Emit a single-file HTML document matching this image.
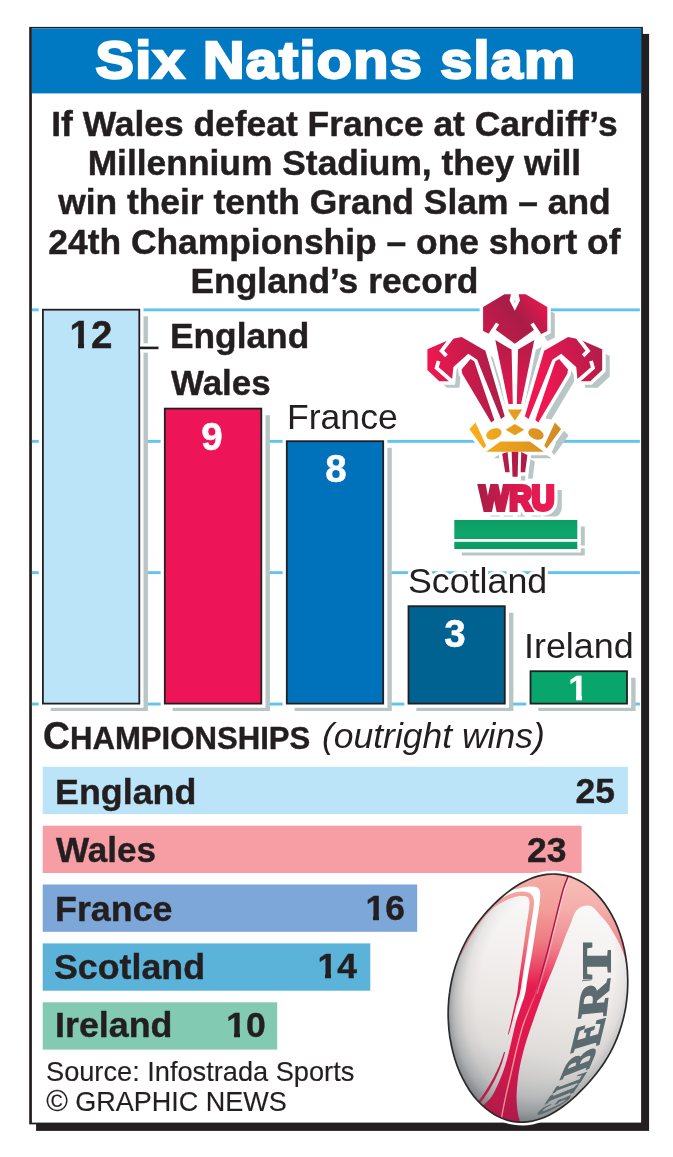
<!DOCTYPE html>
<html lang="en">
<head>
<meta charset="utf-8">
<title>Six Nations slam</title>
<style>
html,body{margin:0;padding:0;background:#fff;}
body{width:673px;height:1157px;position:relative;overflow:hidden;font-family:"Liberation Sans",sans-serif;color:#231f20;}
.abs{position:absolute;white-space:nowrap;line-height:1;}
#title{left:30.5px;width:610px;top:35px;text-align:center;font-weight:bold;font-size:51.5px;color:#fff;-webkit-text-stroke:2.4px #fff;letter-spacing:1.2px;transform:scaleX(1.115);transform-origin:50% 50%;}
.intro{left:0;width:668.8px;text-align:center;font-weight:bold;font-size:35.9px;transform:scaleX(0.986);transform-origin:50% 50%;-webkit-text-stroke:0.45px #231f20;}
.num{font-weight:bold;font-size:39.5px;text-align:center;width:98px;color:#fff;transform:scaleX(0.975);-webkit-text-stroke:0.5px #fff;margin-top:-3.8px;}
.lab{font-size:34.5px;transform:scaleX(1.02);transform-origin:0 50%;}
.labb{font-weight:bold;-webkit-text-stroke:0.4px #231f20;transform:scaleX(1.012);}
.hl{font-weight:bold;font-size:35.7px;transform-origin:0 50%;-webkit-text-stroke:0.4px #231f20;}
.hn{font-weight:bold;font-size:35.5px;text-align:right;transform-origin:100% 50%;-webkit-text-stroke:0.4px #231f20;}
#champ{font-size:31.7px;line-height:38px;}
#champ::first-letter{font-size:38px;}
.src{font-size:27.2px;left:46px;-webkit-text-stroke:0.15px #231f20;}
</style>
</head>
<body>
<svg class="abs" style="left:0;top:0" width="673" height="1157" viewBox="0 0 673 1157">
<rect x="36.1" y="33.9" width="613" height="1097" fill="#231f20"/>
<rect x="29.2" y="26.9" width="613.7" height="1097.5" fill="#231f20"/>
<rect x="31.9" y="28.4" width="609.2" height="1094.2" fill="#fff"/>
<rect x="31.9" y="28.4" width="609.2" height="65" fill="#0079c2"/>
<rect x="31.9" y="308.4" width="608" height="2.9" fill="#62c4ee"/>
<rect x="31.9" y="439.9" width="608" height="2.9" fill="#62c4ee"/>
<rect x="31.9" y="571.2" width="608" height="2.9" fill="#62c4ee"/>
<rect x="31.9" y="702.6" width="608" height="2.9" fill="#62c4ee"/>
<rect x="50.7" y="316.3" width="97.2" height="394.7" fill="#b7c5c5"/>
<rect x="38.7" y="305.5" width="104.8" height="402.3" fill="#fff"/>
<rect x="42.9" y="309.7" width="96.4" height="393.9" fill="#bce4f9" stroke="#231f20" stroke-width="1.8"/>
<rect x="172.6" y="415.2" width="97.3" height="295.8" fill="#b7c5c5"/>
<rect x="160.6" y="404.4" width="104.9" height="303.4" fill="#fff"/>
<rect x="164.8" y="408.6" width="96.5" height="295.0" fill="#ed1558" stroke="#231f20" stroke-width="1.8"/>
<rect x="294.6" y="447.8" width="97.2" height="263.2" fill="#b7c5c5"/>
<rect x="282.6" y="437.0" width="104.8" height="270.8" fill="#fff"/>
<rect x="286.8" y="441.2" width="96.4" height="262.4" fill="#0072bc" stroke="#231f20" stroke-width="1.8"/>
<rect x="416.3" y="612.8" width="97.1" height="98.2" fill="#b7c5c5"/>
<rect x="404.3" y="602.0" width="104.7" height="105.8" fill="#fff"/>
<rect x="408.5" y="606.2" width="96.3" height="97.4" fill="#006291" stroke="#231f20" stroke-width="1.8"/>
<rect x="538.3" y="677.8" width="97.3" height="33.2" fill="#b7c5c5"/>
<rect x="526.3" y="667.0" width="104.9" height="40.8" fill="#fff"/>
<rect x="530.5" y="671.2" width="96.5" height="32.4" fill="#08a56d" stroke="#231f20" stroke-width="1.8"/>
<rect x="140.4" y="343.3" width="8.6" height="9.4" fill="#fff"/>
<rect x="139.2" y="346.6" width="19.3" height="2.6" fill="#231f20"/>
<rect x="42.7" y="766.8" width="585.2" height="47.3" fill="#bce4f9"/>
<rect x="42.7" y="825.7" width="538.9" height="47.3" fill="#f69ea3"/>
<rect x="42.7" y="884.5" width="374.5" height="47.3" fill="#7da7d9"/>
<rect x="42.7" y="943.4" width="327.6" height="47.3" fill="#5cb3d9"/>
<rect x="42.7" y="1002.3" width="234.5" height="47.3" fill="#82cbb2"/>
</svg>
<div id="title" class="abs">Six Nations slam</div>

<div class="abs intro" style="top:106.6px">If Wales defeat France at Cardiff’s</div>
<div class="abs intro" style="top:146.0px">Millennium Stadium, they will</div>
<div class="abs intro" style="top:185.4px">win their tenth Grand Slam – and</div>
<div class="abs intro" style="top:224.8px">24th Championship – one short of</div>
<div class="abs intro" style="top:264.2px">England’s record</div>




<div class="abs num" style="left:42px;top:318.4px;color:#231f20;-webkit-text-stroke-color:#231f20">12</div>
<div class="abs num" style="left:163.3px;top:420.4px">9</div>
<div class="abs num" style="left:286.6px;top:452.8px">8</div>
<div class="abs num" style="left:406px;top:617.8px">3</div>
<div class="abs num" style="left:529.3px;top:673.5px;font-size:35px">1</div>

<div class="abs lab labb" style="left:170.4px;top:318.8px;transform:scaleX(1.023)">England</div>
<div class="abs lab labb" style="left:171.4px;top:366.4px">Wales</div>
<div class="abs lab" style="left:286.5px;top:400px;transform:scaleX(1.031)">France</div>
<div class="abs lab" style="left:407.8px;top:564px;-webkit-text-stroke:6px #fff;paint-order:stroke fill;transform:scaleX(1.037)">Scotland</div>
<div class="abs lab" style="left:523.8px;top:629.3px;transform:scaleX(1.04)">Ireland</div>

<div id="champ" class="abs" style="left:43px;top:716.5px;font-weight:bold;-webkit-text-stroke:0.4px #231f20;transform:scaleX(0.982);transform-origin:0 50%">CHAMPIONSHIPS</div>
<div class="abs" style="left:321.5px;top:718.7px;font-style:italic;font-size:34.5px;transform:scaleX(1.028);transform-origin:0 50%">(outright wins)</div>

<div class="abs hl" style="top:775.1px;left:54.6px;transform:scaleX(1.004)">England</div>
<div class="abs hl" style="top:833.4px;left:56.2px;transform:scaleX(0.983)">Wales</div>
<div class="abs hl" style="top:891.7px;left:54.6px;transform:scaleX(1.004)">France</div>
<div class="abs hl" style="top:950.0px;left:54.4px;transform:scaleX(1.002)">Scotland</div>
<div class="abs hl" style="top:1008.3px;left:54.6px;transform:scaleX(1.004)">Ireland</div>
<div class="abs hn" style="top:774.3px;left:515.0px;width:100px">25</div>
<div class="abs hn" style="top:832.6px;left:466.6px;width:100px">23</div>
<div class="abs hn" style="top:890.9px;left:305.1px;width:100px">16</div>
<div class="abs hn" style="top:949.2px;left:257.1px;width:100px">14</div>
<div class="abs hn" style="top:1007.5px;left:165.7px;width:100px">10</div>

<div class="abs src" style="top:1058.2px">Source: Infostrada Sports</div>
<div class="abs src" style="top:1089.2px;left:46.2px;font-size:27px"><span style="font-size:29.4px;line-height:0;position:relative;top:-0.7px">©</span> GRAPHIC NEWS</div>

<!--FEET-S-->
<svg class="abs" style="left:0;top:0" width="673" height="1157" viewBox="0 0 673 1157">
<rect x="69.50" y="342.5" width="8.50" height="7.5" fill="#bce4f9"/>
<rect x="84.02" y="342.5" width="7.48" height="7.5" fill="#bce4f9"/>
<rect x="568.50" y="695.5" width="7.50" height="6.5" fill="#08a56d"/>
<rect x="582.00" y="695.5" width="6.50" height="6.5" fill="#08a56d"/>
<rect x="365.50" y="915.5" width="7.50" height="6.5" fill="#7da7d9"/>
<rect x="379.00" y="915.5" width="7.50" height="6.5" fill="#7da7d9"/>
<rect x="317.50" y="973.5" width="7.50" height="6.5" fill="#5cb3d9"/>
<rect x="331.00" y="973.5" width="7.50" height="6.5" fill="#5cb3d9"/>
<rect x="226.50" y="1032.5" width="7.50" height="6.5" fill="#82cbb2"/>
<rect x="240.00" y="1032.5" width="7.50" height="6.5" fill="#82cbb2"/>
</svg>
<!--FEET-E-->
<!--LOGO-S-->
<svg class="abs" style="left:0;top:0" width="673" height="1157" viewBox="0 0 673 1157">
<defs>
<linearGradient id="gr" gradientUnits="userSpaceOnUse" x1="440" y1="420" x2="590" y2="300">
<stop offset="0" stop-color="#ef1654"/><stop offset="0.35" stop-color="#e0184f"/><stop offset="0.62" stop-color="#a81d47"/><stop offset="1" stop-color="#ee1752"/>
</linearGradient>
<linearGradient id="grL" gradientUnits="userSpaceOnUse" x1="428" y1="360" x2="490" y2="350">
<stop offset="0" stop-color="#f0174f"/><stop offset="1" stop-color="#b01d49"/>
</linearGradient>
<linearGradient id="grR" gradientUnits="userSpaceOnUse" x1="602" y1="350" x2="540" y2="370">
<stop offset="0" stop-color="#b01d49"/><stop offset="1" stop-color="#ef1752"/>
</linearGradient>
<linearGradient id="grH" gradientUnits="userSpaceOnUse" x1="490" y1="335" x2="545" y2="295">
<stop offset="0" stop-color="#c71a4b"/><stop offset="0.5" stop-color="#a81d47"/><stop offset="1" stop-color="#f01752"/>
</linearGradient>
<linearGradient id="grS" gradientUnits="userSpaceOnUse" x1="0" y1="345" x2="0" y2="420">
<stop offset="0" stop-color="#b81c49"/><stop offset="1" stop-color="#f01752"/>
</linearGradient>
<linearGradient id="gw" gradientUnits="userSpaceOnUse" x1="478" y1="0" x2="555" y2="0">
<stop offset="0" stop-color="#a81d47"/><stop offset="0.5" stop-color="#d91a4e"/><stop offset="1" stop-color="#f01a54"/>
</linearGradient>
<linearGradient id="gg" gradientUnits="userSpaceOnUse" x1="0" y1="520" x2="0" y2="549">
<stop offset="0" stop-color="#0b9c63"/><stop offset="0.5" stop-color="#0ea76c"/><stop offset="1" stop-color="#0b9a60"/>
</linearGradient>
<linearGradient id="go" gradientUnits="userSpaceOnUse" x1="470" y1="0" x2="560" y2="0">
<stop offset="0" stop-color="#f9b01c"/><stop offset="1" stop-color="#d38a22"/>
</linearGradient>
<g id="fHead"><polygon points="483.1,307 504.5,294.2 511,294.2 509.6,300.6 514.8,310.8 520,300.6 518.6,294.2 525.7,294.2 547.3,307 547.3,331 539.8,334.8 533.9,325.1 534.6,329.6 514.8,343.7 495.3,329.6 496,325.1 490.8,334.8 483.1,331"/></g>
<g id="fStem"><polygon points="495.3,340 511.6,349.6 512.8,404 508.5,404"/><polygon points="534.3,340 518,349.6 516.8,404 521.1,404"/></g>
<g id="fLeft"><polygon points="461.6,337.1 485.4,350.8 504.7,416.2 501,418.9 477.2,359.7 468.3,353.8 453.4,367.1 451.9,381.3 439.3,381.3 427.4,370.1 427.4,349.3 450.5,339.2"/><polygon points="461.6,369.4 470.5,359 474.2,361.2 494.3,419.9 491.3,422.4 462.3,373.8"/></g>
<g id="fRight"><polygon points="568,337.1 544.2,350.8 524.9,416.2 528.6,418.9 552.4,359.7 561.3,353.8 576.2,367.1 577.7,381.3 590.3,381.3 602.2,370.1 602.2,349.3 579.1,339.2"/><polygon points="568,369.4 559.1,359 555.4,361.2 535.3,419.9 538.3,422.4 567.3,373.8"/></g>
<g id="fTail"><polygon points="502.2,453.8 507.6,452 509.6,472.2 505.2,472.2"/><polygon points="511.7,451.5 518.3,451.5 517.6,476.8 512.5,476.8"/><polygon points="521.2,452 527.4,454.9 525.1,472.2 520.7,472.2"/></g>
<g id="fHull"><polygon points="475.5,424 506,418 514.9,410.5 524,418 554.9,424 544.5,450 486,450"/><polygon points="502,450 528,450 525,468 505,468"/></g>
<g id="fCrown"><polygon points="507.6,409.6 522.2,409.6 514.9,420.8"/><polygon points="505.6,429.8 514.9,424.1 524.2,429.8 514.9,435.3"/><ellipse cx="493.9" cy="433.9" rx="8" ry="5.3" transform="rotate(-22 493.9 433.9)"/><ellipse cx="535.9" cy="433.9" rx="8" ry="5.3" transform="rotate(22 535.9 433.9)"/><polygon points="469.3,428.9 475.5,422.6 486.2,445.8 483.5,448.5"/><polygon points="561.1,428.9 554.9,422.6 544.2,445.8 546.8,448.5"/><polygon points="486.2,451.7 500.5,441.4 529.9,441.4 543.8,451.7"/></g>
<g id="fGreen"><rect x="454.3" y="520" width="123" height="19"/><rect x="454.3" y="541.8" width="123" height="7.2"/></g>
</defs>
<g transform="translate(7.5,6.5)" fill="#b9c6c6">
<use href="#fHead"/><use href="#fStem"/><use href="#fLeft"/><use href="#fRight"/><use href="#fTail"/><use href="#fCrown"/><use href="#fGreen"/>
<text x="479.6" y="509.9" font-family="'Liberation Sans',sans-serif" font-weight="bold" font-size="34.3" textLength="74.8" lengthAdjust="spacingAndGlyphs" stroke="#b9c6c6" stroke-width="4" stroke-linejoin="miter">WRU</text>
</g>
<g fill="#fff" stroke="#fff" stroke-width="7" stroke-linejoin="miter">
<use href="#fHull"/><use href="#fHead"/><use href="#fStem"/><use href="#fLeft"/><use href="#fRight"/><use href="#fTail"/><use href="#fCrown"/><use href="#fGreen"/>
<text x="479.6" y="509.9" font-family="'Liberation Sans',sans-serif" font-weight="bold" font-size="34.3" textLength="74.8" lengthAdjust="spacingAndGlyphs" stroke-width="11">WRU</text>
</g>
<polyline points="491.5,333 514.8,348 538.1,333" fill="none" stroke="#fff" stroke-width="5"/>
<use href="#fHead" fill="url(#grH)"/>
<use href="#fStem" fill="url(#grS)"/>
<use href="#fLeft" fill="url(#grL)"/>
<use href="#fRight" fill="url(#grR)"/>
<use href="#fTail" fill="#b01b47"/>
<use href="#fCrown" fill="url(#go)"/>
<use href="#fGreen" fill="url(#gg)"/>
<g stroke="#fff" stroke-width="3.8" fill="none">
<line x1="497.6" y1="323.5" x2="490" y2="335"/><line x1="532" y1="323.5" x2="539.6" y2="335"/>
<polyline points="452.3,337 441.6,350.8 446.5,355.8"/>
<polyline points="438.6,361 436.6,367.9 453,382.3"/>
<polyline points="577.3,337 588,350.8 583.1,355.8"/>
<polyline points="591,361 593,367.9 576.6,382.3"/>
</g>
<text x="479.6" y="509.9" font-family="'Liberation Sans',sans-serif" font-weight="bold" font-size="34.3" textLength="74.8" lengthAdjust="spacingAndGlyphs" fill="url(#gw)" stroke="url(#gw)" stroke-width="4" stroke-linejoin="miter">WRU</text>
</svg>
<!--LOGO-E-->
<!--BALL-S-->
<svg class="abs" style="left:0;top:0" width="673" height="1157" viewBox="0 0 673 1157">
<defs>
<linearGradient id="bg" gradientUnits="userSpaceOnUse" x1="568" y1="876" x2="518" y2="1121">
<stop offset="0" stop-color="#fdfcfc"/><stop offset="0.3" stop-color="#f4f1f0"/><stop offset="0.55" stop-color="#ebe7e5"/><stop offset="0.72" stop-color="#dedbd9"/><stop offset="0.86" stop-color="#c6c6c6"/><stop offset="1" stop-color="#a6a9ab"/>
</linearGradient>
<radialGradient id="blimb" gradientUnits="userSpaceOnUse" cx="0" cy="0" r="1" gradientTransform="translate(545.5 984) rotate(14) scale(95.5 140)">
<stop offset="0" stop-color="#7a8085" stop-opacity="0"/><stop offset="0.7" stop-color="#7a8085" stop-opacity="0"/><stop offset="0.82" stop-color="#7a8085" stop-opacity="0.1"/><stop offset="0.92" stop-color="#757b80" stop-opacity="0.36"/><stop offset="1" stop-color="#6a7075" stop-opacity="0.72"/>
</radialGradient>
<linearGradient id="bb" gradientUnits="userSpaceOnUse" x1="0" y1="875" x2="0" y2="1122">
<stop offset="0" stop-color="#f6aca5"/><stop offset="0.14" stop-color="#f29d99"/><stop offset="0.27" stop-color="#ee7a83"/><stop offset="0.37" stop-color="#ea4867"/><stop offset="0.45" stop-color="#e61c51"/><stop offset="0.7" stop-color="#dc184e"/><stop offset="1" stop-color="#ad1a49"/>
</linearGradient>
<linearGradient id="bl" gradientUnits="userSpaceOnUse" x1="0" y1="875" x2="0" y2="995">
<stop offset="0" stop-color="#fff" stop-opacity="0.22"/><stop offset="0.6" stop-color="#fff" stop-opacity="0.12"/><stop offset="1" stop-color="#fff" stop-opacity="0"/>
</linearGradient>
<linearGradient id="bs" gradientUnits="userSpaceOnUse" x1="0" y1="875" x2="0" y2="1122">
<stop offset="0" stop-color="#a8153f"/><stop offset="0.4" stop-color="#b01443"/><stop offset="0.5" stop-color="#e8506a"/><stop offset="0.6" stop-color="#f59a9a"/><stop offset="1" stop-color="#ee8a8e"/>
</linearGradient>
<clipPath id="bc"><path d="M627.4,992.9C627.0,997.6 626.5,1002.3 625.8,1006.8C625.0,1011.3 624.1,1015.7 623.0,1019.9C622.0,1024.0 620.7,1028.1 619.4,1031.9C618.0,1035.8 616.6,1039.4 615.0,1042.9C613.5,1046.4 611.8,1049.7 610.1,1052.8C608.4,1056.0 606.6,1058.9 604.8,1061.7C603.0,1064.6 601.1,1067.2 599.2,1069.8C597.4,1072.3 595.5,1074.7 593.5,1077.0C591.6,1079.3 589.7,1081.5 587.7,1083.7C585.8,1085.8 583.8,1087.9 581.8,1089.9C579.8,1091.9 577.8,1093.9 575.8,1095.8C573.7,1097.7 571.6,1099.5 569.5,1101.3C567.3,1103.1 565.1,1104.9 562.9,1106.5C560.6,1108.2 558.3,1109.8 555.9,1111.3C553.5,1112.8 551.0,1114.2 548.5,1115.5C545.9,1116.7 543.2,1117.9 540.5,1118.8C537.8,1119.8 535.0,1120.6 532.1,1121.2C529.2,1121.7 526.2,1122.1 523.2,1122.2C520.2,1122.2 517.1,1122.1 514.0,1121.6C510.9,1121.1 507.7,1120.4 504.6,1119.2C501.4,1118.1 498.3,1116.7 495.2,1115.0C492.1,1113.2 489.0,1111.1 486.1,1108.7C483.1,1106.3 480.2,1103.6 477.5,1100.5C474.7,1097.5 472.1,1094.1 469.6,1090.4C467.2,1086.8 464.9,1082.9 462.8,1078.7C460.7,1074.6 458.8,1070.2 457.1,1065.7C455.4,1061.1 454.0,1056.4 452.8,1051.6C451.6,1046.8 450.6,1041.8 449.8,1036.9C449.1,1031.9 448.6,1026.9 448.4,1021.9C448.1,1016.9 448.1,1011.9 448.3,1007.0C448.5,1002.2 448.9,997.3 449.6,992.7C450.2,988.0 451.0,983.4 452.0,979.0C453.0,974.6 454.1,970.3 455.4,966.2C456.7,962.2 458.2,958.3 459.7,954.5C461.2,950.8 462.9,947.3 464.6,943.9C466.3,940.5 468.1,937.3 470.0,934.3C471.8,931.2 473.8,928.4 475.7,925.6C477.7,922.9 479.7,920.3 481.7,917.8C483.7,915.3 485.7,912.9 487.8,910.6C489.9,908.4 492.0,906.2 494.1,904.1C496.3,902.0 498.4,900.0 500.7,898.0C502.9,896.1 505.1,894.2 507.4,892.4C509.7,890.7 512.1,888.9 514.5,887.3C516.9,885.7 519.4,884.2 521.9,882.8C524.5,881.4 527.1,880.1 529.8,879.0C532.5,877.9 535.3,876.9 538.1,876.1C540.9,875.4 543.9,874.8 546.8,874.4C549.8,874.1 552.9,873.9 555.9,874.1C559.0,874.3 562.1,874.7 565.3,875.4C568.4,876.1 571.6,877.1 574.7,878.5C577.8,879.8 580.9,881.4 584.0,883.4C587.0,885.4 590.0,887.7 592.9,890.3C595.8,892.9 598.6,895.9 601.2,899.1C603.9,902.3 606.4,905.9 608.7,909.7C611.0,913.4 613.2,917.5 615.2,921.7C617.1,925.9 618.9,930.4 620.4,935.0C621.9,939.5 623.2,944.3 624.3,949.1C625.3,953.9 626.1,958.8 626.7,963.7C627.3,968.6 627.6,973.6 627.7,978.4C627.8,983.3 627.7,988.2 627.4,992.9Z"/></clipPath>
<clipPath id="bband"><path d="M490.0,900.0C492.0,898.9 498.2,895.2 502.0,893.5C505.8,891.8 509.1,890.9 513.0,889.8C517.0,888.7 522.0,887.5 525.7,887.0C529.4,886.5 532.7,886.4 535.0,886.8C537.3,887.2 538.4,888.0 539.3,889.5C540.2,891.0 540.2,893.3 540.2,896.0C540.2,898.7 540.0,900.1 539.3,905.7C538.5,911.3 536.9,921.5 535.7,929.4C534.5,937.3 533.3,945.3 532.0,953.2C530.7,961.1 528.9,970.3 527.8,977.0C526.7,983.7 526.4,988.4 525.2,993.6C524.0,998.8 522.1,1003.0 520.5,1008.0C518.9,1013.0 517.2,1017.2 515.5,1023.8C513.8,1030.4 512.0,1039.6 510.0,1047.5C508.0,1055.4 506.2,1063.4 503.3,1071.3C500.4,1079.2 496.0,1089.3 492.6,1095.1C489.2,1100.8 485.9,1102.6 482.8,1105.8C479.7,1109.0 475.5,1112.6 474.0,1114.0 L500,1135 L521.0,1130.0C520.9,1128.7 520.7,1124.8 520.2,1122.0C519.7,1119.2 518.4,1117.4 517.8,1112.9C517.2,1108.4 516.4,1102.0 516.6,1095.1C516.8,1088.2 517.7,1079.2 519.0,1071.3C520.3,1063.4 522.2,1055.4 524.4,1047.5C526.6,1039.6 529.5,1031.4 532.1,1023.8C534.7,1016.2 537.4,1008.6 539.8,1002.0C542.2,995.4 544.3,989.5 546.5,984.0C548.7,978.5 550.5,974.8 553.0,968.7C555.5,962.6 559.1,953.0 561.3,947.3C563.5,941.6 564.4,938.5 566.0,934.5C567.6,930.5 569.3,926.9 570.7,923.5C572.1,920.1 572.9,916.6 574.3,914.0C575.7,911.4 577.2,909.4 579.0,908.0C580.8,906.6 582.8,905.9 585.0,905.7C587.2,905.5 589.7,905.4 592.1,906.8C594.5,908.2 596.6,911.2 599.2,914.0C601.8,916.8 605.1,920.3 607.5,923.5C609.9,926.7 611.5,929.6 613.5,933.0C615.5,936.4 617.6,939.9 619.4,943.7C621.2,947.5 623.0,951.9 624.2,955.6C625.4,959.3 625.8,962.3 626.8,966.0C627.8,969.7 629.5,976.0 630.0,978.0 L650,960 L640,860 L560,860 L470,880Z"/></clipPath>
</defs>
<path d="M627.4,992.9C627.0,997.6 626.5,1002.3 625.8,1006.8C625.0,1011.3 624.1,1015.7 623.0,1019.9C622.0,1024.0 620.7,1028.1 619.4,1031.9C618.0,1035.8 616.6,1039.4 615.0,1042.9C613.5,1046.4 611.8,1049.7 610.1,1052.8C608.4,1056.0 606.6,1058.9 604.8,1061.7C603.0,1064.6 601.1,1067.2 599.2,1069.8C597.4,1072.3 595.5,1074.7 593.5,1077.0C591.6,1079.3 589.7,1081.5 587.7,1083.7C585.8,1085.8 583.8,1087.9 581.8,1089.9C579.8,1091.9 577.8,1093.9 575.8,1095.8C573.7,1097.7 571.6,1099.5 569.5,1101.3C567.3,1103.1 565.1,1104.9 562.9,1106.5C560.6,1108.2 558.3,1109.8 555.9,1111.3C553.5,1112.8 551.0,1114.2 548.5,1115.5C545.9,1116.7 543.2,1117.9 540.5,1118.8C537.8,1119.8 535.0,1120.6 532.1,1121.2C529.2,1121.7 526.2,1122.1 523.2,1122.2C520.2,1122.2 517.1,1122.1 514.0,1121.6C510.9,1121.1 507.7,1120.4 504.6,1119.2C501.4,1118.1 498.3,1116.7 495.2,1115.0C492.1,1113.2 489.0,1111.1 486.1,1108.7C483.1,1106.3 480.2,1103.6 477.5,1100.5C474.7,1097.5 472.1,1094.1 469.6,1090.4C467.2,1086.8 464.9,1082.9 462.8,1078.7C460.7,1074.6 458.8,1070.2 457.1,1065.7C455.4,1061.1 454.0,1056.4 452.8,1051.6C451.6,1046.8 450.6,1041.8 449.8,1036.9C449.1,1031.9 448.6,1026.9 448.4,1021.9C448.1,1016.9 448.1,1011.9 448.3,1007.0C448.5,1002.2 448.9,997.3 449.6,992.7C450.2,988.0 451.0,983.4 452.0,979.0C453.0,974.6 454.1,970.3 455.4,966.2C456.7,962.2 458.2,958.3 459.7,954.5C461.2,950.8 462.9,947.3 464.6,943.9C466.3,940.5 468.1,937.3 470.0,934.3C471.8,931.2 473.8,928.4 475.7,925.6C477.7,922.9 479.7,920.3 481.7,917.8C483.7,915.3 485.7,912.9 487.8,910.6C489.9,908.4 492.0,906.2 494.1,904.1C496.3,902.0 498.4,900.0 500.7,898.0C502.9,896.1 505.1,894.2 507.4,892.4C509.7,890.7 512.1,888.9 514.5,887.3C516.9,885.7 519.4,884.2 521.9,882.8C524.5,881.4 527.1,880.1 529.8,879.0C532.5,877.9 535.3,876.9 538.1,876.1C540.9,875.4 543.9,874.8 546.8,874.4C549.8,874.1 552.9,873.9 555.9,874.1C559.0,874.3 562.1,874.7 565.3,875.4C568.4,876.1 571.6,877.1 574.7,878.5C577.8,879.8 580.9,881.4 584.0,883.4C587.0,885.4 590.0,887.7 592.9,890.3C595.8,892.9 598.6,895.9 601.2,899.1C603.9,902.3 606.4,905.9 608.7,909.7C611.0,913.4 613.2,917.5 615.2,921.7C617.1,925.9 618.9,930.4 620.4,935.0C621.9,939.5 623.2,944.3 624.3,949.1C625.3,953.9 626.1,958.8 626.7,963.7C627.3,968.6 627.6,973.6 627.7,978.4C627.8,983.3 627.7,988.2 627.4,992.9Z" fill="#fff" stroke="#fff" stroke-width="6.5"/>
<path d="M627.4,992.9C627.0,997.6 626.5,1002.3 625.8,1006.8C625.0,1011.3 624.1,1015.7 623.0,1019.9C622.0,1024.0 620.7,1028.1 619.4,1031.9C618.0,1035.8 616.6,1039.4 615.0,1042.9C613.5,1046.4 611.8,1049.7 610.1,1052.8C608.4,1056.0 606.6,1058.9 604.8,1061.7C603.0,1064.6 601.1,1067.2 599.2,1069.8C597.4,1072.3 595.5,1074.7 593.5,1077.0C591.6,1079.3 589.7,1081.5 587.7,1083.7C585.8,1085.8 583.8,1087.9 581.8,1089.9C579.8,1091.9 577.8,1093.9 575.8,1095.8C573.7,1097.7 571.6,1099.5 569.5,1101.3C567.3,1103.1 565.1,1104.9 562.9,1106.5C560.6,1108.2 558.3,1109.8 555.9,1111.3C553.5,1112.8 551.0,1114.2 548.5,1115.5C545.9,1116.7 543.2,1117.9 540.5,1118.8C537.8,1119.8 535.0,1120.6 532.1,1121.2C529.2,1121.7 526.2,1122.1 523.2,1122.2C520.2,1122.2 517.1,1122.1 514.0,1121.6C510.9,1121.1 507.7,1120.4 504.6,1119.2C501.4,1118.1 498.3,1116.7 495.2,1115.0C492.1,1113.2 489.0,1111.1 486.1,1108.7C483.1,1106.3 480.2,1103.6 477.5,1100.5C474.7,1097.5 472.1,1094.1 469.6,1090.4C467.2,1086.8 464.9,1082.9 462.8,1078.7C460.7,1074.6 458.8,1070.2 457.1,1065.7C455.4,1061.1 454.0,1056.4 452.8,1051.6C451.6,1046.8 450.6,1041.8 449.8,1036.9C449.1,1031.9 448.6,1026.9 448.4,1021.9C448.1,1016.9 448.1,1011.9 448.3,1007.0C448.5,1002.2 448.9,997.3 449.6,992.7C450.2,988.0 451.0,983.4 452.0,979.0C453.0,974.6 454.1,970.3 455.4,966.2C456.7,962.2 458.2,958.3 459.7,954.5C461.2,950.8 462.9,947.3 464.6,943.9C466.3,940.5 468.1,937.3 470.0,934.3C471.8,931.2 473.8,928.4 475.7,925.6C477.7,922.9 479.7,920.3 481.7,917.8C483.7,915.3 485.7,912.9 487.8,910.6C489.9,908.4 492.0,906.2 494.1,904.1C496.3,902.0 498.4,900.0 500.7,898.0C502.9,896.1 505.1,894.2 507.4,892.4C509.7,890.7 512.1,888.9 514.5,887.3C516.9,885.7 519.4,884.2 521.9,882.8C524.5,881.4 527.1,880.1 529.8,879.0C532.5,877.9 535.3,876.9 538.1,876.1C540.9,875.4 543.9,874.8 546.8,874.4C549.8,874.1 552.9,873.9 555.9,874.1C559.0,874.3 562.1,874.7 565.3,875.4C568.4,876.1 571.6,877.1 574.7,878.5C577.8,879.8 580.9,881.4 584.0,883.4C587.0,885.4 590.0,887.7 592.9,890.3C595.8,892.9 598.6,895.9 601.2,899.1C603.9,902.3 606.4,905.9 608.7,909.7C611.0,913.4 613.2,917.5 615.2,921.7C617.1,925.9 618.9,930.4 620.4,935.0C621.9,939.5 623.2,944.3 624.3,949.1C625.3,953.9 626.1,958.8 626.7,963.7C627.3,968.6 627.6,973.6 627.7,978.4C627.8,983.3 627.7,988.2 627.4,992.9Z" fill="url(#bg)"/>
<path d="M627.4,992.9C627.0,997.6 626.5,1002.3 625.8,1006.8C625.0,1011.3 624.1,1015.7 623.0,1019.9C622.0,1024.0 620.7,1028.1 619.4,1031.9C618.0,1035.8 616.6,1039.4 615.0,1042.9C613.5,1046.4 611.8,1049.7 610.1,1052.8C608.4,1056.0 606.6,1058.9 604.8,1061.7C603.0,1064.6 601.1,1067.2 599.2,1069.8C597.4,1072.3 595.5,1074.7 593.5,1077.0C591.6,1079.3 589.7,1081.5 587.7,1083.7C585.8,1085.8 583.8,1087.9 581.8,1089.9C579.8,1091.9 577.8,1093.9 575.8,1095.8C573.7,1097.7 571.6,1099.5 569.5,1101.3C567.3,1103.1 565.1,1104.9 562.9,1106.5C560.6,1108.2 558.3,1109.8 555.9,1111.3C553.5,1112.8 551.0,1114.2 548.5,1115.5C545.9,1116.7 543.2,1117.9 540.5,1118.8C537.8,1119.8 535.0,1120.6 532.1,1121.2C529.2,1121.7 526.2,1122.1 523.2,1122.2C520.2,1122.2 517.1,1122.1 514.0,1121.6C510.9,1121.1 507.7,1120.4 504.6,1119.2C501.4,1118.1 498.3,1116.7 495.2,1115.0C492.1,1113.2 489.0,1111.1 486.1,1108.7C483.1,1106.3 480.2,1103.6 477.5,1100.5C474.7,1097.5 472.1,1094.1 469.6,1090.4C467.2,1086.8 464.9,1082.9 462.8,1078.7C460.7,1074.6 458.8,1070.2 457.1,1065.7C455.4,1061.1 454.0,1056.4 452.8,1051.6C451.6,1046.8 450.6,1041.8 449.8,1036.9C449.1,1031.9 448.6,1026.9 448.4,1021.9C448.1,1016.9 448.1,1011.9 448.3,1007.0C448.5,1002.2 448.9,997.3 449.6,992.7C450.2,988.0 451.0,983.4 452.0,979.0C453.0,974.6 454.1,970.3 455.4,966.2C456.7,962.2 458.2,958.3 459.7,954.5C461.2,950.8 462.9,947.3 464.6,943.9C466.3,940.5 468.1,937.3 470.0,934.3C471.8,931.2 473.8,928.4 475.7,925.6C477.7,922.9 479.7,920.3 481.7,917.8C483.7,915.3 485.7,912.9 487.8,910.6C489.9,908.4 492.0,906.2 494.1,904.1C496.3,902.0 498.4,900.0 500.7,898.0C502.9,896.1 505.1,894.2 507.4,892.4C509.7,890.7 512.1,888.9 514.5,887.3C516.9,885.7 519.4,884.2 521.9,882.8C524.5,881.4 527.1,880.1 529.8,879.0C532.5,877.9 535.3,876.9 538.1,876.1C540.9,875.4 543.9,874.8 546.8,874.4C549.8,874.1 552.9,873.9 555.9,874.1C559.0,874.3 562.1,874.7 565.3,875.4C568.4,876.1 571.6,877.1 574.7,878.5C577.8,879.8 580.9,881.4 584.0,883.4C587.0,885.4 590.0,887.7 592.9,890.3C595.8,892.9 598.6,895.9 601.2,899.1C603.9,902.3 606.4,905.9 608.7,909.7C611.0,913.4 613.2,917.5 615.2,921.7C617.1,925.9 618.9,930.4 620.4,935.0C621.9,939.5 623.2,944.3 624.3,949.1C625.3,953.9 626.1,958.8 626.7,963.7C627.3,968.6 627.6,973.6 627.7,978.4C627.8,983.3 627.7,988.2 627.4,992.9Z" fill="url(#blimb)"/>
<g clip-path="url(#bc)">
<path d="M500.4,898.4 L501.5,898.1 L503.0,897.6 L504.8,897.1 L506.8,896.4 L508.8,895.7 L510.8,895.1 L512.8,894.5 L514.5,894.1 L516.0,893.7 L517.6,893.4 L519.1,893.1 L520.6,892.8 L522.1,892.6 L523.5,892.4 L524.9,892.3 L526.1,892.2 L527.4,892.0 L528.5,891.9 L529.6,891.8 L530.6,891.7 L531.4,891.7 L532.1,891.8 L532.6,891.9 L532.9,892.0 L533.2,892.2 L533.5,892.3 L533.6,892.4 L533.7,892.6 L533.9,892.8 L534.0,893.1 L534.2,893.6 L534.3,894.4 L534.5,895.2 L534.6,896.1 L534.7,897.2 L534.7,898.4 L534.7,899.8 L534.6,901.4 L534.4,903.3 L534.2,905.4 L534.0,907.7 L533.6,910.4 L533.2,913.3 L532.8,916.4 L532.3,919.6 L531.8,922.8 L531.4,926.0 L530.9,929.0 L530.5,932.0 L530.1,935.0 L529.7,938.0 L529.3,940.9 L528.9,943.9 L528.5,946.9 L528.1,949.9 L527.6,952.8 L527.2,955.9 L526.7,959.0 L526.2,962.1 L525.7,965.2 L525.2,968.3 L524.7,971.2 L524.2,974.0 L523.8,976.7 L523.5,979.2 L523.2,981.5 L522.9,983.8 L522.7,985.9 L522.5,987.8 L522.3,989.7 L522.0,991.5 L521.7,993.3 L521.4,994.9 L521.2,996.4 L520.8,997.7 L520.5,999.0 L520.2,1000.3 L519.8,1001.6 L519.4,1003.1 L519.0,1004.7 L518.4,1006.5 L517.9,1008.6 L517.2,1010.7 L516.5,1013.0 L515.9,1015.1 L515.3,1017.0 L514.9,1018.6 L514.5,1019.8 L515.5,1020.2 L515.9,1019.0 L516.6,1017.4 L517.3,1015.5 L518.1,1013.5 L518.9,1011.3 L519.7,1009.1 L520.4,1007.1 L521.0,1005.3 L521.6,1003.8 L522.1,1002.4 L522.6,1001.1 L523.1,999.8 L523.6,998.5 L524.0,997.1 L524.4,995.6 L524.9,993.9 L525.2,992.1 L525.6,990.2 L525.9,988.3 L526.2,986.3 L526.5,984.2 L526.8,982.0 L527.2,979.7 L527.6,977.3 L528.0,974.7 L528.6,971.9 L529.1,969.0 L529.7,965.9 L530.3,962.8 L530.9,959.7 L531.4,956.6 L532.0,953.6 L532.5,950.6 L533.0,947.6 L533.5,944.6 L534.0,941.6 L534.4,938.7 L534.9,935.7 L535.4,932.7 L535.9,929.8 L536.4,926.7 L536.9,923.6 L537.5,920.4 L538.0,917.2 L538.5,914.1 L539.0,911.2 L539.4,908.5 L539.8,906.0 L540.1,903.9 L540.3,902.0 L540.5,900.3 L540.7,898.7 L540.8,897.3 L540.8,895.9 L540.8,894.5 L540.7,893.2 L540.4,892.0 L540.0,890.8 L539.5,889.7 L538.9,888.7 L538.1,887.8 L537.1,887.1 L536.2,886.5 L535.1,886.0 L533.9,885.7 L532.6,885.5 L531.4,885.5 L530.2,885.6 L528.9,885.8 L527.7,886.0 L526.5,886.2 L525.3,886.4 L523.9,886.7 L522.5,887.1 L521.1,887.4 L519.5,887.8 L518.0,888.3 L516.4,888.8 L514.8,889.3 L513.1,889.9 L511.4,890.7 L509.5,891.5 L507.5,892.5 L505.5,893.4 L503.7,894.4 L502.0,895.2 L500.6,896.0 L499.6,896.6Z" fill="#fff"/>
<path d="M490.0,900.0C492.0,898.9 498.2,895.2 502.0,893.5C505.8,891.8 509.1,890.9 513.0,889.8C517.0,888.7 522.0,887.5 525.7,887.0C529.4,886.5 532.7,886.4 535.0,886.8C537.3,887.2 538.4,888.0 539.3,889.5C540.2,891.0 540.2,893.3 540.2,896.0C540.2,898.7 540.0,900.1 539.3,905.7C538.5,911.3 536.9,921.5 535.7,929.4C534.5,937.3 533.3,945.3 532.0,953.2C530.7,961.1 528.9,970.3 527.8,977.0C526.7,983.7 526.4,988.4 525.2,993.6C524.0,998.8 522.1,1003.0 520.5,1008.0C518.9,1013.0 517.2,1017.2 515.5,1023.8C513.8,1030.4 512.0,1039.6 510.0,1047.5C508.0,1055.4 506.2,1063.4 503.3,1071.3C500.4,1079.2 496.0,1089.3 492.6,1095.1C489.2,1100.8 485.9,1102.6 482.8,1105.8C479.7,1109.0 475.5,1112.6 474.0,1114.0 L500,1135 L521.0,1130.0C520.9,1128.7 520.7,1124.8 520.2,1122.0C519.7,1119.2 518.4,1117.4 517.8,1112.9C517.2,1108.4 516.4,1102.0 516.6,1095.1C516.8,1088.2 517.7,1079.2 519.0,1071.3C520.3,1063.4 522.2,1055.4 524.4,1047.5C526.6,1039.6 529.5,1031.4 532.1,1023.8C534.7,1016.2 537.4,1008.6 539.8,1002.0C542.2,995.4 544.3,989.5 546.5,984.0C548.7,978.5 550.5,974.8 553.0,968.7C555.5,962.6 559.1,953.0 561.3,947.3C563.5,941.6 564.4,938.5 566.0,934.5C567.6,930.5 569.3,926.9 570.7,923.5C572.1,920.1 572.9,916.6 574.3,914.0C575.7,911.4 577.2,909.4 579.0,908.0C580.8,906.6 582.8,905.9 585.0,905.7C587.2,905.5 589.7,905.4 592.1,906.8C594.5,908.2 596.6,911.2 599.2,914.0C601.8,916.8 605.1,920.3 607.5,923.5C609.9,926.7 611.5,929.6 613.5,933.0C615.5,936.4 617.6,939.9 619.4,943.7C621.2,947.5 623.0,951.9 624.2,955.6C625.4,959.3 625.8,962.3 626.8,966.0C627.8,969.7 629.5,976.0 630.0,978.0 L650,960 L640,860 L560,860 L470,880Z" fill="url(#bb)"/>
<g clip-path="url(#bband)"><path d="M568.3,875.9C567.5,877.9 565.3,882.8 563.7,887.8C562.1,892.8 560.7,898.8 558.9,905.7C557.1,912.6 555.0,921.5 553.0,929.4C551.0,937.3 549.1,945.7 547.1,953.2C545.1,960.7 543.0,967.9 541.1,974.6C539.2,981.3 536.4,990.4 535.5,993.6 L700,995 L700,860Z" fill="url(#bl)"/></g>
<path d="M460.8,955.6 L461.5,954.2 L462.5,952.4 L463.7,950.1 L465.0,947.7 L466.4,945.1 L467.8,942.5 L469.2,940.1 L470.4,937.8 L471.6,935.8 L472.8,933.9 L474.0,932.0 L475.1,930.2 L476.3,928.4 L477.5,926.6 L478.7,924.8 L480.0,923.1 L481.3,921.3 L482.6,919.6 L484.0,917.8 L485.4,916.1 L486.8,914.5 L488.2,912.9 L489.6,911.4 L491.1,910.1 L492.5,908.8 L493.9,907.6 L495.4,906.5 L496.9,905.5 L498.4,904.6 L499.9,903.6 L501.4,902.8 L502.9,901.9 L504.3,901.1 L505.8,900.4 L507.3,899.7 L508.8,899.0 L510.3,898.4 L511.7,897.9 L513.1,897.4 L514.4,897.1 L515.7,896.7 L516.9,896.5 L518.0,896.3 L519.2,896.1 L520.3,896.0 L521.3,896.0 L522.3,896.0 L523.2,896.0 L524.0,896.1 L524.8,896.1 L525.5,896.3 L526.1,896.4 L526.6,896.6 L527.0,896.8 L527.4,897.1 L527.7,897.3 L528.0,897.6 L528.3,897.9 L528.5,898.3 L528.8,898.7 L528.9,899.2 L529.1,899.7 L529.3,900.4 L529.4,901.2 L529.5,902.0 L529.5,902.8 L529.5,903.7 L529.4,904.6 L529.4,905.7 L529.2,907.0 L529.1,908.5 L528.9,910.1 L528.6,912.0 L528.3,914.0 L528.0,916.3 L527.6,918.7 L527.2,921.2 L526.8,923.8 L526.4,926.4 L526.0,929.1 L525.6,931.9 L525.2,934.7 L524.8,937.7 L524.4,940.7 L524.0,943.8 L523.6,946.9 L523.1,949.9 L522.7,952.9 L522.3,956.0 L521.8,959.1 L521.4,962.2 L521.0,965.3 L520.5,968.4 L520.1,971.3 L519.7,974.1 L519.3,976.8 L519.0,979.3 L518.7,981.6 L518.4,983.9 L518.2,986.0 L518.0,988.0 L517.7,989.9 L517.5,991.7 L517.2,993.4 L517.0,994.8 L516.8,996.0 L516.5,997.0 L516.3,998.0 L516.0,998.9 L515.8,1000.0 L515.5,1001.3 L515.1,1002.8 L514.7,1004.6 L514.3,1006.6 L513.8,1008.7 L513.3,1011.0 L512.8,1013.3 L512.3,1015.6 L511.8,1017.8 L511.3,1019.8 L510.9,1021.9 L510.4,1024.0 L509.9,1026.1 L509.4,1028.2 L508.9,1030.1 L508.5,1031.8 L508.2,1033.3 L507.9,1034.4 L508.7,1034.6 L509.0,1033.5 L509.4,1032.1 L509.9,1030.4 L510.4,1028.4 L511.0,1026.4 L511.6,1024.3 L512.1,1022.2 L512.7,1020.2 L513.2,1018.1 L513.7,1015.9 L514.3,1013.6 L514.9,1011.4 L515.4,1009.1 L515.9,1007.0 L516.4,1005.0 L516.9,1003.2 L517.3,1001.8 L517.7,1000.6 L518.1,999.5 L518.4,998.6 L518.7,997.6 L519.1,996.6 L519.4,995.3 L519.8,993.8 L520.1,992.1 L520.4,990.3 L520.8,988.4 L521.1,986.4 L521.4,984.3 L521.7,982.0 L522.1,979.7 L522.5,977.2 L522.9,974.6 L523.3,971.8 L523.8,968.9 L524.3,965.8 L524.8,962.7 L525.3,959.6 L525.8,956.5 L526.3,953.5 L526.8,950.5 L527.2,947.4 L527.7,944.3 L528.2,941.3 L528.6,938.3 L529.1,935.3 L529.5,932.4 L530.0,929.7 L530.4,927.0 L530.9,924.4 L531.3,921.8 L531.7,919.3 L532.1,917.0 L532.5,914.7 L532.9,912.6 L533.1,910.7 L533.4,909.0 L533.5,907.5 L533.7,906.2 L533.8,905.0 L533.9,903.8 L533.9,902.7 L533.9,901.7 L533.8,900.6 L533.7,899.6 L533.5,898.6 L533.2,897.7 L532.9,896.8 L532.4,896.0 L531.9,895.2 L531.3,894.5 L530.7,893.9 L529.9,893.3 L529.1,892.8 L528.2,892.5 L527.3,892.2 L526.4,891.9 L525.4,891.8 L524.4,891.7 L523.4,891.6 L522.3,891.6 L521.2,891.6 L520.0,891.7 L518.7,891.8 L517.4,892.0 L516.0,892.2 L514.6,892.5 L513.2,892.9 L511.7,893.4 L510.3,894.0 L508.7,894.6 L507.2,895.3 L505.6,896.1 L504.0,896.9 L502.5,897.8 L500.9,898.7 L499.4,899.6 L497.9,900.6 L496.4,901.6 L494.9,902.7 L493.4,903.9 L491.9,905.2 L490.4,906.5 L488.9,907.9 L487.6,909.5 L486.2,911.2 L484.9,912.9 L483.6,914.7 L482.3,916.6 L481.1,918.4 L479.8,920.3 L478.6,922.1 L477.4,924.0 L476.3,925.8 L475.1,927.6 L474.0,929.5 L472.9,931.4 L471.8,933.3 L470.7,935.3 L469.6,937.4 L468.3,939.6 L467.0,942.1 L465.7,944.7 L464.3,947.3 L463.0,949.8 L461.9,952.1 L460.9,953.9 L460.2,955.4Z" fill="url(#bb)"/>
<path d="M504.1,1051.8 L503.7,1052.9 L503.3,1054.3 L502.7,1056.0 L502.1,1057.9 L501.4,1059.8 L500.7,1061.8 L499.9,1063.8 L499.2,1065.7 L498.4,1067.5 L497.5,1069.3 L496.7,1071.2 L495.7,1073.1 L494.8,1075.0 L493.8,1076.9 L492.9,1078.7 L491.9,1080.4 L491.0,1082.1 L490.1,1083.8 L489.1,1085.4 L488.1,1087.0 L487.2,1088.5 L486.2,1090.0 L485.3,1091.4 L484.4,1092.8 L483.6,1094.1 L482.7,1095.3 L481.9,1096.4 L481.2,1097.5 L480.4,1098.5 L479.6,1099.5 L478.9,1100.5 L478.2,1101.4 L477.5,1102.3 L476.7,1103.1 L476.0,1104.0 L475.3,1104.8 L474.6,1105.5 L474.0,1106.1 L473.4,1106.7 L473.0,1107.1 L475.0,1108.9 L475.3,1108.5 L475.9,1107.9 L476.5,1107.3 L477.2,1106.5 L477.9,1105.7 L478.7,1104.8 L479.5,1103.9 L480.2,1103.0 L481.0,1102.1 L481.7,1101.1 L482.5,1100.1 L483.3,1099.0 L484.1,1097.9 L484.9,1096.7 L485.7,1095.5 L486.6,1094.2 L487.5,1092.8 L488.4,1091.4 L489.3,1089.9 L490.3,1088.3 L491.2,1086.7 L492.2,1085.0 L493.1,1083.3 L494.1,1081.6 L495.0,1079.8 L495.8,1077.9 L496.7,1076.0 L497.6,1074.0 L498.5,1072.1 L499.3,1070.1 L500.1,1068.2 L500.8,1066.3 L501.5,1064.4 L502.2,1062.4 L502.8,1060.3 L503.4,1058.3 L503.9,1056.4 L504.4,1054.7 L504.8,1053.2 L505.1,1052.2Z" fill="#c01c4b"/>
<path d="M568.3,875.9C567.5,877.9 565.3,882.8 563.7,887.8C562.1,892.8 560.7,898.8 558.9,905.7C557.1,912.6 555.0,921.5 553.0,929.4C551.0,937.3 549.1,945.7 547.1,953.2C545.1,960.7 543.0,967.9 541.1,974.6C539.2,981.3 536.4,990.4 535.5,993.6" fill="none" stroke="#fff" stroke-opacity="0.3" stroke-width="1.6" transform="translate(1.5,0.3)"/>
<path d="M568.3,875.9C567.5,877.9 565.3,882.8 563.7,887.8C562.1,892.8 560.7,898.8 558.9,905.7C557.1,912.6 555.0,921.5 553.0,929.4C551.0,937.3 549.1,945.7 547.1,953.2C545.1,960.7 543.0,967.9 541.1,974.6C539.2,981.3 537.0,988.9 535.5,993.6C534.0,998.3 533.8,998.0 531.8,1003.0C529.8,1008.0 526.0,1016.4 523.5,1023.8C521.0,1031.2 519.0,1039.6 517.0,1047.5C515.0,1055.4 513.3,1063.4 511.5,1071.3C509.7,1079.2 507.5,1088.2 506.0,1095.1C504.5,1102.0 503.2,1108.4 502.4,1112.9C501.6,1117.4 501.2,1120.5 501.0,1122.0" fill="none" stroke="url(#bs)" stroke-width="1.4"/>
<defs><clipPath id="gl0"><rect x="-4.0" y="-90" width="85.8" height="120"/></clipPath><clipPath id="gl1"><rect x="80.8" y="-90" width="46.9" height="120"/></clipPath><clipPath id="gl2"><rect x="126.7" y="-90" width="74.7" height="120"/></clipPath><clipPath id="gl3"><rect x="200.4" y="-90" width="74.7" height="120"/></clipPath><clipPath id="gl4"><rect x="274.1" y="-90" width="74.7" height="120"/></clipPath><clipPath id="gl5"><rect x="347.8" y="-90" width="80.2" height="120"/></clipPath><clipPath id="gl6"><rect x="427.0" y="-90" width="71.2" height="120"/></clipPath></defs>
<g transform="matrix(0.1116 -0.1411 0.4354 -0.1970 563.47 1104.86)"><g clip-path="url(#gl0)"><text x="0" y="0" letter-spacing="7.0" font-family="'Liberation Serif',serif" font-weight="bold" font-size="100" fill="#5b6b6f" stroke="#5b6b6f" stroke-width="5">GILBERT</text></g></g>
<g transform="matrix(0.1605 -0.2424 0.4130 -0.1688 558.77 1114.01)"><g clip-path="url(#gl1)"><text x="0" y="0" letter-spacing="7.0" font-family="'Liberation Serif',serif" font-weight="bold" font-size="100" fill="#5b6b6f" stroke="#5b6b6f" stroke-width="5">GILBERT</text></g></g>
<g transform="matrix(0.1120 -0.1779 0.4006 -0.1507 564.53 1106.40)"><g clip-path="url(#gl2)"><text x="0" y="0" letter-spacing="7.0" font-family="'Liberation Serif',serif" font-weight="bold" font-size="100" fill="#5b6b6f" stroke="#5b6b6f" stroke-width="5">GILBERT</text></g></g>
<g transform="matrix(0.1418 -0.3423 0.4247 -0.1649 559.34 1138.96)"><g clip-path="url(#gl3)"><text x="0" y="0" letter-spacing="7.0" font-family="'Liberation Serif',serif" font-weight="bold" font-size="100" fill="#5b6b6f" stroke="#5b6b6f" stroke-width="5">GILBERT</text></g></g>
<g transform="matrix(0.1042 -0.4261 0.4176 -0.1234 569.41 1163.34)"><g clip-path="url(#gl4)"><text x="0" y="0" letter-spacing="7.0" font-family="'Liberation Serif',serif" font-weight="bold" font-size="100" fill="#5b6b6f" stroke="#5b6b6f" stroke-width="5">GILBERT</text></g></g>
<g transform="matrix(0.0556 -0.5002 0.4080 -0.0366 586.02 1191.95)"><g clip-path="url(#gl5)"><text x="0" y="0" letter-spacing="7.0" font-family="'Liberation Serif',serif" font-weight="bold" font-size="100" fill="#5b6b6f" stroke="#5b6b6f" stroke-width="5">GILBERT</text></g></g>
<g transform="matrix(0.0000 -0.5414 0.4108 -0.0000 609.90 1210.77)"><g clip-path="url(#gl6)"><text x="0" y="0" letter-spacing="7.0" font-family="'Liberation Serif',serif" font-weight="bold" font-size="100" fill="#5b6b6f" stroke="#5b6b6f" stroke-width="5">GILBERT</text></g></g>
</g>
<path d="M627.4,992.9C627.0,997.6 626.5,1002.3 625.8,1006.8C625.0,1011.3 624.1,1015.7 623.0,1019.9C622.0,1024.0 620.7,1028.1 619.4,1031.9C618.0,1035.8 616.6,1039.4 615.0,1042.9C613.5,1046.4 611.8,1049.7 610.1,1052.8C608.4,1056.0 606.6,1058.9 604.8,1061.7C603.0,1064.6 601.1,1067.2 599.2,1069.8C597.4,1072.3 595.5,1074.7 593.5,1077.0C591.6,1079.3 589.7,1081.5 587.7,1083.7C585.8,1085.8 583.8,1087.9 581.8,1089.9C579.8,1091.9 577.8,1093.9 575.8,1095.8C573.7,1097.7 571.6,1099.5 569.5,1101.3C567.3,1103.1 565.1,1104.9 562.9,1106.5C560.6,1108.2 558.3,1109.8 555.9,1111.3C553.5,1112.8 551.0,1114.2 548.5,1115.5C545.9,1116.7 543.2,1117.9 540.5,1118.8C537.8,1119.8 535.0,1120.6 532.1,1121.2C529.2,1121.7 526.2,1122.1 523.2,1122.2C520.2,1122.2 517.1,1122.1 514.0,1121.6C510.9,1121.1 507.7,1120.4 504.6,1119.2C501.4,1118.1 498.3,1116.7 495.2,1115.0C492.1,1113.2 489.0,1111.1 486.1,1108.7C483.1,1106.3 480.2,1103.6 477.5,1100.5C474.7,1097.5 472.1,1094.1 469.6,1090.4C467.2,1086.8 464.9,1082.9 462.8,1078.7C460.7,1074.6 458.8,1070.2 457.1,1065.7C455.4,1061.1 454.0,1056.4 452.8,1051.6C451.6,1046.8 450.6,1041.8 449.8,1036.9C449.1,1031.9 448.6,1026.9 448.4,1021.9C448.1,1016.9 448.1,1011.9 448.3,1007.0C448.5,1002.2 448.9,997.3 449.6,992.7C450.2,988.0 451.0,983.4 452.0,979.0C453.0,974.6 454.1,970.3 455.4,966.2C456.7,962.2 458.2,958.3 459.7,954.5C461.2,950.8 462.9,947.3 464.6,943.9C466.3,940.5 468.1,937.3 470.0,934.3C471.8,931.2 473.8,928.4 475.7,925.6C477.7,922.9 479.7,920.3 481.7,917.8C483.7,915.3 485.7,912.9 487.8,910.6C489.9,908.4 492.0,906.2 494.1,904.1C496.3,902.0 498.4,900.0 500.7,898.0C502.9,896.1 505.1,894.2 507.4,892.4C509.7,890.7 512.1,888.9 514.5,887.3C516.9,885.7 519.4,884.2 521.9,882.8C524.5,881.4 527.1,880.1 529.8,879.0C532.5,877.9 535.3,876.9 538.1,876.1C540.9,875.4 543.9,874.8 546.8,874.4C549.8,874.1 552.9,873.9 555.9,874.1C559.0,874.3 562.1,874.7 565.3,875.4C568.4,876.1 571.6,877.1 574.7,878.5C577.8,879.8 580.9,881.4 584.0,883.4C587.0,885.4 590.0,887.7 592.9,890.3C595.8,892.9 598.6,895.9 601.2,899.1C603.9,902.3 606.4,905.9 608.7,909.7C611.0,913.4 613.2,917.5 615.2,921.7C617.1,925.9 618.9,930.4 620.4,935.0C621.9,939.5 623.2,944.3 624.3,949.1C625.3,953.9 626.1,958.8 626.7,963.7C627.3,968.6 627.6,973.6 627.7,978.4C627.8,983.3 627.7,988.2 627.4,992.9Z" fill="none" stroke="#2b2a2c" stroke-width="1.7"/>
</svg>
<!--BALL-E-->
</body>
</html>
